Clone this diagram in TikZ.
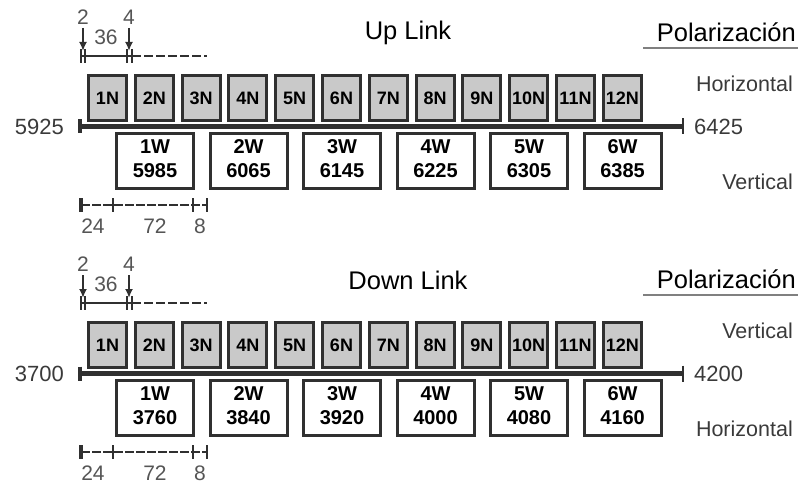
\documentclass[tikz,border=0pt]{standalone}
\usepackage{fontspec}
\setmainfont{Liberation Sans}
\usetikzlibrary{arrows.meta}

\definecolor{boxline}{HTML}{303030}
\definecolor{chanfill}{HTML}{C9C9C9}
\definecolor{labelgray}{HTML}{3A3A3A}
\definecolor{dimgray}{HTML}{555555}

\begin{document}
\begin{tikzpicture}[x=1pt,y=-1pt,
    nchan/.style={draw=boxline, line width=3pt, fill=chanfill, minimum width=38pt,
      minimum height=45pt, inner sep=0pt, font=\fontsize{18}{18}\selectfont\bfseries},
    wchan/.style={draw=boxline, line width=3pt, fill=white, minimum width=77pt,
      minimum height=55pt, inner sep=0pt, align=center,
      font=\fontsize{20}{24}\selectfont\bfseries},
    freq/.style={inner sep=0pt, text=labelgray, font=\fontsize{22}{22}\selectfont},
    pol/.style={inner sep=0pt, anchor=east, text=labelgray, font=\fontsize{21.5}{21.5}\selectfont},
    dimtext/.style={inner sep=0pt, text=dimgray, font=\fontsize{21}{21}\selectfont},
    titletext/.style={inner sep=0pt, font=\fontsize{25.5}{25.5}\selectfont},
    tick/.style={line width=2.5pt, boxline}]

  % page size
  \useasboundingbox (0,0) rectangle (798,484);

  \foreach \s/\dy/\title/\fa/\fb/\fw/\pa/\pb in
      {1/0/Up Link/5925/6425/5985/Horizontal/Vertical,
       2/247/Down Link/3700/4200/3760/Vertical/Horizontal} {

    % Title and polarization heading
    \node[titletext] (title\s) at (408,33+\dy) {\title};
    \node[titletext, anchor=east] (polhead\s) at (796,32+\dy) {Polarización};
    \draw[gray, line width=1.2pt] (643,48+\dy) -- (798,48+\dy);
    \node[pol] (pola\s) at (793,84+\dy) {\pa};
    \node[pol] (polb\s) at (793,182+\dy) {\pb};

    % Narrow channels
    \foreach \i in {1,...,12}
      \node[nchan] (n\i-\s) at ({107.5+(\i-1)*46.8},98+\dy) {\i N};

    % Band line
    \coordinate (lo\s) at (80,126.5+\dy);
    \coordinate (hi\s) at (683,126.5+\dy);
    \draw[line width=5pt, boxline] (lo\s) -- (hi\s);
    \draw[line width=3.5pt, boxline] ([yshift=7pt]lo\s) -- ([yshift=-7pt]lo\s);
    \draw[tick] ([yshift=8pt]hi\s) -- ([yshift=-8pt]hi\s);
    \node[freq, anchor=east] (fa\s) at (64,127+\dy) {\fa};
    \node[freq, anchor=west] (fb\s) at (694,127+\dy) {\fb};

    % Wide channels
    \foreach \j in {1,...,6} {
      \pgfmathtruncatemacro\wf{\fw+80*(\j-1)}
      \node[wchan] (w\j-\s) at ({155+(\j-1)*93.5},161+\dy) {\strut\j W\\\strut\wf};
    }

    % Spacing of the narrow channels
    \draw[line width=2pt, boxline] (81,56+\dy) -- (132,56+\dy);
    \draw[line width=2pt, boxline, dash pattern=on 9pt off 3pt] (132,56+\dy) -- (207,56+\dy);
    \foreach \x in {81,85,127,132}
      \draw[tick] (\x,49+\dy) -- (\x,63+\dy);
    \node[dimtext] (g2-\s) at (83,17+\dy) {2};
    \node[dimtext] (g4-\s) at (129,17+\dy) {4};
    \node[dimtext] (g36-\s) at (106,37+\dy) {36};
    \draw[-{Latex[length=9pt,width=8pt]}, line width=2pt, boxline] (g2-\s) ++(0,11) -- (83,51+\dy);
    \draw[-{Latex[length=9pt,width=8pt]}, line width=2pt, boxline] (g4-\s) ++(0,11) -- (129,51+\dy);

    % Spacing of the wide channels
    \draw[line width=2pt, boxline, dash pattern=on 9pt off 2pt] (81,205+\dy) -- (207,205+\dy);
    \draw[line width=3.5pt, boxline] (81,198+\dy) -- (81,212+\dy);
    \foreach \x in {113,193,207}
      \draw[tick] (\x,198+\dy) -- (\x,212+\dy);
    \node[dimtext] (g24-\s) at (93,226+\dy) {24};
    \node[dimtext] (g72-\s) at (155,226+\dy) {72};
    \node[dimtext] (g8-\s) at (200,226+\dy) {8};
  }
\end{tikzpicture}
\end{document}
